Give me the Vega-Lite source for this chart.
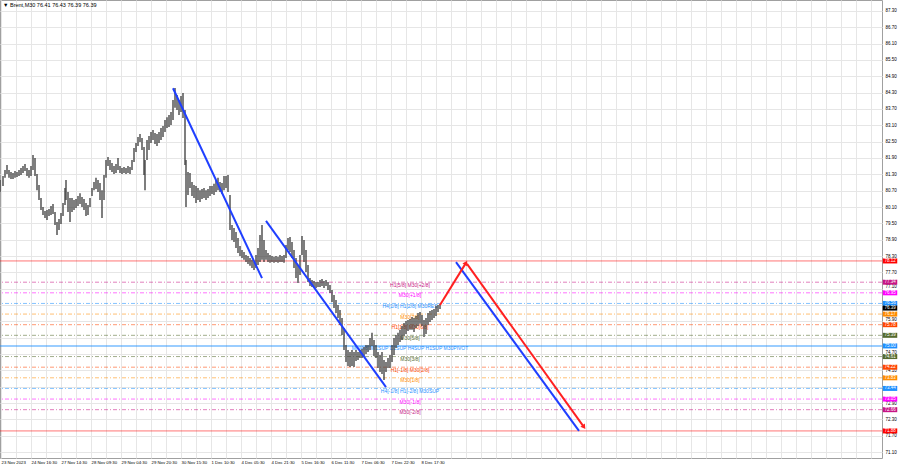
{
"$schema": "https://vega.github.io/schema/vega-lite/v6.json",
"width": 882, "height": 458,
"autosize": {"type": "none"},
"padding": {"left": 0, "top": 0, "right": 18, "bottom": 10},
"background": "#ffffff",
"config": {
 "view": {"stroke": "#a0a0a0", "strokeWidth": 1},
 "axis": {"domain": false, "ticks": false, "gridColor": "#e6e6e6", "gridWidth": 1, "labelFont": "Liberation Sans", "labelFontSize": 4.5, "labelColor": "#000000"},
 "text": {"font": "Liberation Sans"}
},
"datasets": {
 "levels": [
  {"p": 78.12, "g": "ext", "t": ""},
  {"p": 77.34, "g": "pm2", "t": "H1[5/8] M30[+2/8]"},
  {"p": 76.95, "g": "pm1", "t": "M30[+1/8]"},
  {"p": 76.56, "g": "sr", "t": "H4[1/8] H1[2/8] M30RES"},
  {"p": 76.17, "g": "q1", "t": "M30[7/8]"},
  {"p": 75.78, "g": "q2", "t": "H1[1/8] M30[6/8]"},
  {"p": 75.39, "g": "q3", "t": "M30[5/8]"},
  {"p": 75.00, "g": "piv", "t": "MN[4/8] W1SUP D1SUP H4SUP H1SUP M30PIVOT"},
  {"p": 74.61, "g": "q3", "t": "M30[3/8]"},
  {"p": 74.22, "g": "q2", "t": "H1[-1/8] M30[2/8]"},
  {"p": 73.83, "g": "q1", "t": "M30[1/8]"},
  {"p": 73.44, "g": "sr", "t": "H4[-1/8] H1[-2/8] M30SUP"},
  {"p": 73.05, "g": "pm1", "t": "M30[-1/8]"},
  {"p": 72.66, "g": "pm2", "t": "M30[-2/8]"},
  {"p": 71.88, "g": "ext", "t": ""}
 ],
 "tags": [
  {"p": 78.12, "g": "ext"}, {"p": 77.34, "g": "pm2"}, {"p": 76.95, "g": "pm1"}, {"p": 76.56, "g": "sr"},
  {"p": 76.39, "g": "bid"}, {"p": 76.17, "g": "q1"}, {"p": 75.78, "g": "q2"}, {"p": 75.39, "g": "q3"},
  {"p": 75.00, "g": "piv"}, {"p": 74.61, "g": "q3"}, {"p": 74.22, "g": "q2"}, {"p": 73.83, "g": "q1"},
  {"p": 73.44, "g": "sr"}, {"p": 73.05, "g": "pm1"}, {"p": 72.66, "g": "pm2"}, {"p": 71.88, "g": "ext"}
 ],
 "trend": [
  {"id": "A", "kind": "trend", "b1": 173, "p1": 84.46, "b2": 262, "p2": 77.49},
  {"id": "B", "kind": "trend", "b1": 266, "p1": 79.59, "b2": 386, "p2": 73.49},
  {"id": "D", "kind": "trend", "b1": 456, "p1": 78.08, "b2": 579, "p2": 71.88},
  {"id": "C", "kind": "forecast", "b1": 440, "p1": 76.50, "b2": 466, "p2": 78.05},
  {"id": "E", "kind": "forecast", "b1": 467, "p1": 78.01, "b2": 584, "p2": 72.02}
 ],
 "tips": [
  {"kind": "up", "b": 466, "p": 78.05},
  {"kind": "down", "b": 584, "p": 72.02}
 ],
 "header": [{"label": "▼ Brent,M30  76.41 76.43 76.39 76.39"}],
 "bars": [
{"b":0,"hi":81.09,"lo":80.65},{"b":3,"hi":81.24,"lo":80.87},{"b":5,"hi":81.46,"lo":81.17},{"b":7,"hi":81.64,"lo":81.31},{"b":9,"hi":81.46,"lo":81.17},{"b":11,"hi":81.39,"lo":81.13},{"b":13,"hi":81.35,"lo":81.13},{"b":15,"hi":81.42,"lo":81.17},{"b":17,"hi":81.39,"lo":81.20},{"b":19,"hi":81.46,"lo":81.24},{"b":21,"hi":81.53,"lo":81.28},{"b":23,"hi":81.61,"lo":81.35},{"b":25,"hi":81.68,"lo":81.42},{"b":27,"hi":81.53,"lo":81.24},{"b":29,"hi":81.46,"lo":81.17},{"b":31,"hi":81.61,"lo":81.24},{"b":33,"hi":82.01,"lo":81.46},{"b":35,"hi":81.90,"lo":81.24},{"b":37,"hi":81.31,"lo":80.72},{"b":39,"hi":80.91,"lo":80.36},{"b":41,"hi":80.43,"lo":79.99},{"b":43,"hi":80.10,"lo":79.81},{"b":45,"hi":79.95,"lo":79.70},{"b":47,"hi":79.99,"lo":79.62},{"b":49,"hi":80.03,"lo":79.77},{"b":51,"hi":80.14,"lo":79.81},{"b":53,"hi":80.21,"lo":79.84},{"b":55,"hi":79.92,"lo":79.44},{"b":57,"hi":79.55,"lo":79.07},{"b":59,"hi":79.66,"lo":79.26},{"b":61,"hi":79.88,"lo":79.48},{"b":63,"hi":80.25,"lo":79.77},{"b":65,"hi":80.80,"lo":80.17},{"b":66,"hi":81.09,"lo":80.36},{"b":68,"hi":80.65,"lo":79.92},{"b":70,"hi":80.43,"lo":79.55},{"b":72,"hi":80.43,"lo":79.92},{"b":74,"hi":80.36,"lo":79.99},{"b":76,"hi":80.39,"lo":80.06},{"b":78,"hi":80.50,"lo":80.14},{"b":80,"hi":80.61,"lo":80.21},{"b":82,"hi":80.47,"lo":80.10},{"b":84,"hi":80.39,"lo":79.99},{"b":86,"hi":80.25,"lo":79.77},{"b":88,"hi":80.17,"lo":79.81},{"b":90,"hi":80.43,"lo":80.10},{"b":92,"hi":80.80,"lo":80.50},{"b":94,"hi":81.02,"lo":80.72},{"b":96,"hi":81.17,"lo":80.76},{"b":98,"hi":81.09,"lo":80.65},{"b":100,"hi":80.98,"lo":80.36},{"b":102,"hi":80.72,"lo":79.70},{"b":104,"hi":81.28,"lo":80.36},{"b":106,"hi":81.83,"lo":81.17},{"b":108,"hi":81.94,"lo":81.61},{"b":110,"hi":81.83,"lo":81.46},{"b":112,"hi":81.72,"lo":81.39},{"b":114,"hi":81.61,"lo":81.31},{"b":116,"hi":81.68,"lo":81.35},{"b":118,"hi":81.90,"lo":81.46},{"b":120,"hi":81.61,"lo":81.35},{"b":122,"hi":81.53,"lo":81.31},{"b":124,"hi":81.57,"lo":81.35},{"b":126,"hi":81.53,"lo":81.31},{"b":128,"hi":81.61,"lo":81.35},{"b":130,"hi":81.57,"lo":81.31},{"b":132,"hi":81.83,"lo":81.46},{"b":134,"hi":82.27,"lo":81.75},{"b":136,"hi":82.45,"lo":82.12},{"b":138,"hi":82.67,"lo":82.34},{"b":140,"hi":82.78,"lo":82.49},{"b":142,"hi":82.63,"lo":82.19},{"b":144,"hi":82.30,"lo":81.28},{"b":145,"hi":81.83,"lo":80.72},{"b":147,"hi":82.56,"lo":81.83},{"b":149,"hi":82.71,"lo":82.19},{"b":151,"hi":82.85,"lo":82.45},{"b":153,"hi":82.93,"lo":82.56},{"b":155,"hi":82.82,"lo":82.41},{"b":157,"hi":82.78,"lo":82.34},{"b":159,"hi":82.85,"lo":82.45},{"b":161,"hi":83.00,"lo":82.56},{"b":163,"hi":83.07,"lo":82.67},{"b":165,"hi":83.29,"lo":82.85},{"b":167,"hi":83.40,"lo":83.00},{"b":169,"hi":83.48,"lo":83.04},{"b":171,"hi":83.59,"lo":83.11},{"b":173,"hi":84.03,"lo":83.29},{"b":175,"hi":84.47,"lo":83.74},{"b":177,"hi":84.21,"lo":83.66},{"b":179,"hi":84.03,"lo":83.48},{"b":181,"hi":84.18,"lo":83.59},{"b":183,"hi":84.29,"lo":83.37},{"b":185,"hi":83.66,"lo":81.64},{"b":186,"hi":81.83,"lo":80.10},{"b":188,"hi":81.39,"lo":80.54},{"b":190,"hi":81.35,"lo":80.80},{"b":192,"hi":81.02,"lo":80.50},{"b":194,"hi":80.91,"lo":80.43},{"b":196,"hi":80.87,"lo":80.25},{"b":198,"hi":80.80,"lo":80.36},{"b":200,"hi":80.72,"lo":80.28},{"b":202,"hi":80.76,"lo":80.39},{"b":204,"hi":80.80,"lo":80.43},{"b":206,"hi":80.72,"lo":80.36},{"b":208,"hi":80.76,"lo":80.43},{"b":210,"hi":80.87,"lo":80.50},{"b":212,"hi":80.87,"lo":80.58},{"b":214,"hi":80.95,"lo":80.54},{"b":216,"hi":81.09,"lo":80.65},{"b":218,"hi":81.17,"lo":80.72},{"b":220,"hi":81.02,"lo":80.65},{"b":222,"hi":80.98,"lo":80.58},{"b":224,"hi":81.24,"lo":80.72},{"b":226,"hi":81.24,"lo":80.80},{"b":228,"hi":81.28,"lo":80.65},{"b":230,"hi":80.54,"lo":79.26},{"b":232,"hi":79.44,"lo":78.89},{"b":234,"hi":79.33,"lo":78.82},{"b":236,"hi":79.18,"lo":78.60},{"b":238,"hi":78.96,"lo":78.41},{"b":240,"hi":78.67,"lo":78.30},{"b":242,"hi":78.52,"lo":78.23},{"b":244,"hi":78.45,"lo":78.16},{"b":246,"hi":78.34,"lo":78.08},{"b":248,"hi":78.30,"lo":78.01},{"b":250,"hi":78.23,"lo":77.94},{"b":252,"hi":78.16,"lo":77.86},{"b":254,"hi":78.08,"lo":77.79},{"b":256,"hi":78.34,"lo":77.86},{"b":258,"hi":78.60,"lo":77.97},{"b":260,"hi":79.07,"lo":78.08},{"b":262,"hi":79.44,"lo":78.16},{"b":264,"hi":78.89,"lo":78.08},{"b":266,"hi":78.52,"lo":78.16},{"b":268,"hi":78.41,"lo":78.08},{"b":270,"hi":78.34,"lo":78.05},{"b":272,"hi":78.30,"lo":78.08},{"b":274,"hi":78.27,"lo":78.05},{"b":276,"hi":78.30,"lo":78.08},{"b":278,"hi":78.27,"lo":78.05},{"b":280,"hi":78.34,"lo":78.08},{"b":282,"hi":78.30,"lo":78.08},{"b":284,"hi":78.34,"lo":78.05},{"b":286,"hi":78.71,"lo":78.23},{"b":288,"hi":78.96,"lo":78.52},{"b":290,"hi":79.00,"lo":78.45},{"b":292,"hi":78.82,"lo":78.23},{"b":294,"hi":78.52,"lo":77.86},{"b":296,"hi":78.23,"lo":77.49},{"b":298,"hi":77.97,"lo":77.31},{"b":300,"hi":78.34,"lo":77.60},{"b":302,"hi":79.04,"lo":78.34},{"b":304,"hi":78.89,"lo":78.08},{"b":306,"hi":78.52,"lo":77.71},{"b":308,"hi":77.97,"lo":77.35},{"b":310,"hi":77.49,"lo":77.20},{"b":312,"hi":77.42,"lo":77.16},{"b":314,"hi":77.38,"lo":77.13},{"b":316,"hi":77.35,"lo":77.13},{"b":318,"hi":77.35,"lo":77.16},{"b":320,"hi":77.42,"lo":77.16},{"b":322,"hi":77.46,"lo":77.20},{"b":324,"hi":77.38,"lo":77.13},{"b":326,"hi":77.42,"lo":77.20},{"b":328,"hi":77.35,"lo":77.05},{"b":330,"hi":77.24,"lo":76.94},{"b":332,"hi":77.05,"lo":76.61},{"b":334,"hi":76.87,"lo":76.39},{"b":336,"hi":76.69,"lo":76.21},{"b":338,"hi":76.50,"lo":76.03},{"b":340,"hi":76.32,"lo":75.77},{"b":342,"hi":76.03,"lo":75.40},{"b":344,"hi":75.66,"lo":74.85},{"b":346,"hi":75.03,"lo":74.41},{"b":348,"hi":74.85,"lo":74.26},{"b":350,"hi":74.78,"lo":74.23},{"b":352,"hi":74.85,"lo":74.26},{"b":354,"hi":74.78,"lo":74.23},{"b":356,"hi":74.85,"lo":74.45},{"b":358,"hi":74.78,"lo":74.48},{"b":360,"hi":74.85,"lo":74.56},{"b":362,"hi":74.89,"lo":74.56},{"b":364,"hi":74.96,"lo":74.63},{"b":366,"hi":75.03,"lo":74.70},{"b":368,"hi":75.03,"lo":74.78},{"b":370,"hi":75.29,"lo":74.85},{"b":372,"hi":75.48,"lo":75.00},{"b":374,"hi":75.22,"lo":74.63},{"b":376,"hi":75.03,"lo":74.56},{"b":378,"hi":74.78,"lo":74.19},{"b":380,"hi":74.67,"lo":74.04},{"b":382,"hi":74.78,"lo":73.97},{"b":384,"hi":74.48,"lo":73.75},{"b":386,"hi":74.41,"lo":74.04},{"b":388,"hi":74.56,"lo":74.19},{"b":390,"hi":74.67,"lo":74.19},{"b":392,"hi":75.03,"lo":74.41},{"b":394,"hi":75.29,"lo":74.67},{"b":396,"hi":75.40,"lo":74.92},{"b":398,"hi":75.48,"lo":75.03},{"b":400,"hi":75.59,"lo":75.14},{"b":402,"hi":75.73,"lo":75.22},{"b":404,"hi":75.84,"lo":75.37},{"b":406,"hi":75.92,"lo":75.44},{"b":408,"hi":75.95,"lo":75.55},{"b":410,"hi":75.99,"lo":75.59},{"b":412,"hi":76.06,"lo":75.59},{"b":414,"hi":76.03,"lo":75.51},{"b":416,"hi":76.10,"lo":75.66},{"b":418,"hi":76.21,"lo":75.73},{"b":420,"hi":76.25,"lo":75.81},{"b":422,"hi":76.14,"lo":75.73},{"b":424,"hi":75.95,"lo":75.33},{"b":426,"hi":76.03,"lo":75.44},{"b":428,"hi":76.21,"lo":75.77},{"b":430,"hi":76.28,"lo":75.88},{"b":432,"hi":76.32,"lo":75.95},{"b":434,"hi":76.36,"lo":76.03},{"b":436,"hi":76.47,"lo":76.10},{"b":438,"hi":76.50,"lo":76.25},{"b":440,"hi":76.54,"lo":76.36}
 ]
},
"layer": [
 {
  "data": {"name": "bars"},
  "mark": {"type": "rule", "opacity": 0},
  "encoding": {
   "x": {"field": "b", "type": "quantitative", "title": null, "scale": {"domain": [0, 882], "nice": false, "zero": false},
    "axis": {"values": [1,16,31,46,61,76,91,106,121,136,151,166,181,196,211,226,241,256,271,286,301,316,331,346,361,376,391,406,421,436,451,466,481,496,511,526,541,556,571,586,601,616,631,646,661,676,691,706,721,736,751,766,781,796,811,826,841,856,871],
     "tickCount": 200, "labelFontSize": 4.3,
     "labelExpr": "(datum.value - 1) % 30 == 0 && datum.value <= 421 ? ['23 Nov 2023','24 Nov 16:30','27 Nov 14:30','28 Nov 09:30','29 Nov 04:30','29 Nov 20:30','30 Nov 15:30','1 Dec 10:30','4 Dec 05:30','4 Dec 21:30','5 Dec 16:30','6 Dec 11:30','7 Dec 06:30','7 Dec 22:30','8 Dec 17:30'][(datum.value - 1) / 30] : ''",
     "grid": true, "labelAlign": "left", "labelBaseline": "top", "labelPadding": 2.5, "labelOverlap": false, "labelBound": false, "labelFlush": false, "title": null}},
   "y": {"field": "hi", "type": "quantitative", "title": null, "scale": {"domain": [70.886, 87.7], "nice": false, "zero": false},
    "axis": {"orient": "right", "values": [71.1,71.7,72.3,72.9,73.5,74.1,74.7,75.3,75.9,76.5,77.1,77.7,78.3,78.9,79.5,80.1,80.7,81.3,81.9,82.5,83.1,83.7,84.3,84.9,85.5,86.1,86.7,87.3], "tickCount": 200, "format": ".2f",
     "labelExpr": "abs(datum.value - 76.5) < 0.01 || abs(datum.value - 75.3) < 0.01 || abs(datum.value - 73.5) < 0.01 ? '' : datum.label",
     "labelBaseline": {"condition": {"test": "abs(datum.value - 77.1) < 0.01 || abs(datum.value - 75.9) < 0.01 || abs(datum.value - 74.7) < 0.01", "value": "bottom"}, "value": "middle"},
     "grid": true, "labelPadding": 3, "labelOverlap": false, "labelBound": false, "labelFlush": false, "title": null}},
   "y2": {"field": "lo"}
  }
 },
 {
  "data": {"name": "levels"},
  "transform": [{"filter": "datum.g != 'piv'"}],
  "mark": {"type": "rule", "opacity": 0.55, "strokeWidth": 1},
  "encoding": {
   "y": {"field": "p", "type": "quantitative", "title": null},
   "color": {"field": "g", "type": "nominal", "legend": null, "scale": {"domain": ["ext","pm2","pm1","sr","piv","q1","q2","q3","bid"], "range": ["#ff0000","#c71585","#ff00ff","#1e90ff","#1e90ff","#ff8c00","#ff4500","#556b2f","#000000"]}},
   "strokeDash": {"field": "g", "type": "nominal", "legend": null, "scale": {"domain": ["ext","pm2","pm1","sr","piv","q1","q2","q3","bid"], "range": [[1,0],[4,2,1,2],[4,2,1,2],[4,2,1,2],[1,0],[4,2,1,2],[4,2,1,2],[4,2,1,2],[1,0]]}}
  }
 },
 {
  "data": {"name": "levels"},
  "transform": [{"filter": "datum.g == 'piv'"}],
  "mark": {"type": "rule", "opacity": 0.6, "strokeWidth": 1.6, "color": "#1e90ff"},
  "encoding": {
   "y": {"field": "p", "type": "quantitative", "title": null}
  }
 },
 {
  "data": {"name": "levels"},
  "transform": [{"filter": "datum.t != ''"}],
  "mark": {"type": "text", "align": "center", "baseline": "top", "dy": 0.5, "fontSize": 5},
  "encoding": {
   "x": {"datum": 410, "type": "quantitative"},
   "y": {"field": "p", "type": "quantitative", "title": null},
   "color": {"field": "g", "type": "nominal", "legend": null, "scale": {"domain": ["ext","pm2","pm1","sr","piv","q1","q2","q3","bid"], "range": ["#ff0000","#c71585","#ff00ff","#1e90ff","#1e90ff","#ff8c00","#ff4500","#556b2f","#000000"]}},
   "text": {"field": "t", "type": "nominal"}
  }
 },
 {
  "data": {"name": "bars"},
  "mark": {"type": "rule", "color": "#404040", "strokeWidth": 1.5, "opacity": 0.9},
  "encoding": {
   "x": {"field": "b", "type": "quantitative", "title": null},
   "y": {"field": "hi", "type": "quantitative", "title": null},
   "y2": {"field": "lo"}
  }
 },
 {
  "data": {"name": "trend"},
  "transform": [{"filter": "datum.kind == 'trend'"}],
  "mark": {"type": "rule", "color": "#1f3fff", "strokeWidth": 2},
  "encoding": {
   "x": {"field": "b1", "type": "quantitative", "title": null},
   "x2": {"field": "b2"},
   "y": {"field": "p1", "type": "quantitative", "title": null},
   "y2": {"field": "p2"}
  }
 },
 {
  "data": {"name": "trend"},
  "transform": [{"filter": "datum.kind == 'forecast'"}],
  "mark": {"type": "rule", "color": "#ff2020", "strokeWidth": 2},
  "encoding": {
   "x": {"field": "b1", "type": "quantitative", "title": null},
   "x2": {"field": "b2"},
   "y": {"field": "p1", "type": "quantitative", "title": null},
   "y2": {"field": "p2"}
  }
 },
 {
  "data": {"name": "tips"},
  "transform": [{"filter": "datum.kind == 'up'"}],
  "mark": {"type": "point", "shape": "triangle-up", "filled": true, "color": "#ff2020", "opacity": 1, "size": 30, "angle": 31},
  "encoding": {
   "x": {"field": "b", "type": "quantitative", "title": null},
   "y": {"field": "p", "type": "quantitative", "title": null}
  }
 },
 {
  "data": {"name": "tips"},
  "transform": [{"filter": "datum.kind == 'down'"}],
  "mark": {"type": "point", "shape": "triangle-up", "filled": true, "color": "#ff2020", "opacity": 1, "size": 30, "angle": 144},
  "encoding": {
   "x": {"field": "b", "type": "quantitative", "title": null},
   "y": {"field": "p", "type": "quantitative", "title": null}
  }
 },
 {
  "data": {"name": "tags"},
  "mark": {"type": "point", "shape": "M-1,-0.345L1,-0.345L1,0.345L-1,0.345Z", "filled": true, "opacity": 1, "size": 210, "strokeWidth": 0},
  "encoding": {
   "x": {"datum": 890, "type": "quantitative"},
   "y": {"field": "p", "type": "quantitative", "title": null},
   "color": {"field": "g", "type": "nominal", "legend": null, "scale": {"domain": ["ext","pm2","pm1","sr","piv","q1","q2","q3","bid"], "range": ["#ff0000","#c71585","#ff00ff","#1e90ff","#1e90ff","#ff8c00","#ff4500","#556b2f","#000000"]}}
  }
 },
 {
  "data": {"name": "tags"},
  "mark": {"type": "text", "align": "center", "baseline": "middle", "fontSize": 4.5, "color": "#ffffff"},
  "encoding": {
   "x": {"datum": 890, "type": "quantitative"},
   "y": {"field": "p", "type": "quantitative", "title": null},
   "text": {"field": "p", "type": "quantitative", "format": ".2f"}
  }
 },
 {
  "data": {"name": "header"},
  "mark": {"type": "text", "align": "left", "baseline": "middle", "fontSize": 5.5, "color": "#000000"},
  "encoding": {
   "x": {"datum": 3, "type": "quantitative"},
   "y": {"datum": 87.53, "type": "quantitative"},
   "text": {"field": "label", "type": "nominal"}
  }
 }
]
}
